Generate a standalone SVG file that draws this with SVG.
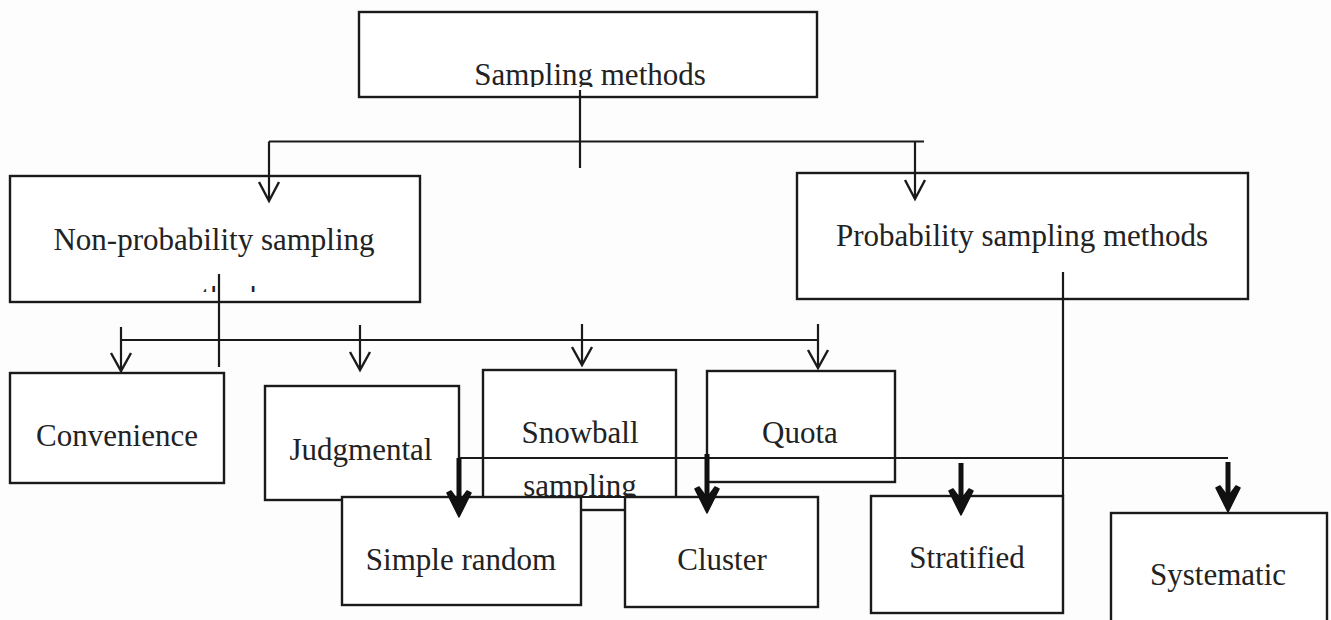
<svg xmlns="http://www.w3.org/2000/svg" width="1331" height="620" viewBox="0 0 1331 620">
<style>
.box{fill:#fff;stroke:#1a1a1a;stroke-width:2.4}
.t{font-family:"Liberation Serif","Times New Roman",serif;font-size:31px;fill:#222;text-anchor:middle}
.c{fill:none;stroke:#1a1a1a;stroke-width:2.2}
.ah{fill:none;stroke:#1a1a1a;stroke-width:2.4}
.th{fill:none;stroke:#111;stroke-width:5}
.tk{fill:#111;stroke:#111;stroke-width:1.5;stroke-linejoin:round}
</style>
<defs>
<clipPath id="clipTop"><rect x="359" y="12" width="458" height="75"/></clipPath>
<clipPath id="clipMeth"><rect x="150" y="286" width="140" height="6"/></clipPath>
<clipPath id="clipSnow"><rect x="483" y="370" width="193" height="126"/></clipPath>
</defs>
<rect width="1331" height="620" fill="#fdfdfd"/>

<g id="node-sampling">
<rect class="box" x="359" y="12" width="458" height="85"/>
<text class="t" x="590" y="85" clip-path="url(#clipTop)">Sampling methods</text>
</g>
<g id="node-nonprob">
<rect class="box" x="10" y="176" width="410" height="126"/>
<text class="t" x="214" y="250">Non-probability sampling</text>
<text class="t" x="216" y="307" clip-path="url(#clipMeth)">methods</text>
</g>
<g id="node-prob">
<rect class="box" x="797" y="173" width="451" height="126"/>
<text class="t" x="1022" y="246">Probability sampling methods</text>
</g>
<g id="node-convenience">
<rect class="box" x="10" y="373" width="214" height="110"/>
<text class="t" x="117" y="446">Convenience</text>
</g>
<g id="node-judgmental">
<rect class="box" x="265" y="386" width="194" height="114"/>
<text class="t" x="361" y="460">Judgmental</text>
</g>
<g id="node-snowball">
<rect class="box" x="483" y="370" width="193" height="140"/>
<text class="t" x="580" y="443">Snowball</text>
<text class="t" x="580" y="496" clip-path="url(#clipSnow)">sampling</text>
<line x1="483" y1="497" x2="676" y2="497" stroke="#1a1a1a" stroke-width="2.2"/>
</g>
<g id="node-quota">
<rect class="box" x="707" y="371" width="188" height="111"/>
<text class="t" x="800" y="443">Quota</text>
</g>
<g id="node-simple">
<rect class="box" x="342" y="497" width="239" height="108"/>
<text class="t" x="461" y="570">Simple random</text>
</g>
<g id="node-cluster">
<rect class="box" x="625" y="497" width="193" height="110"/>
<text class="t" x="722" y="570">Cluster</text>
</g>
<g id="node-stratified">
<rect class="box" x="871" y="496" width="192" height="117"/>
<text class="t" x="967" y="568">Stratified</text>
</g>
<g id="node-systematic">
<rect class="box" x="1111" y="513" width="216" height="110"/>
<text class="t" x="1218" y="585">Systematic</text>
</g>

<g id="connectors">
<path class="c" d="M580 90 V168 M269 141.5 H924 M269 141.5 V200 M915 141.5 V198"/>
<path class="ah" d="M259 182 L269 201 L279 182 M905 180 L915 199 L925 180"/>
<path class="c" d="M219 274 V367 M121 340 H818 M121 327 V370 M360 325 V369 M582 324 V364 M818 324 V367"/>
<path class="ah" d="M111 353 L121 371 L131 353 M350 352 L360 370 L370 352 M572 347 L582 365 L592 347 M808 350 L818 368 L828 350"/>
<path class="c" d="M1063 272 V496 M459 458 H1228"/>
<path class="th" d="M459 458 V505 M707 454 V502 M961 463 V504 M1228 462 V501"/>
<path class="tk" d="M447 493 L451 491 L459 502 L467 491 L471 493 L459 517 Z"/>
<path class="tk" d="M695 489 L699 487 L707 498 L715 487 L719 489 L707 513 Z"/>
<path class="tk" d="M949 491 L953 489 L961 500 L969 489 L973 491 L961 515 Z"/>
<path class="tk" d="M1216 488 L1220 486 L1228 497 L1236 486 L1240 488 L1228 512 Z"/>
</g>
</svg>
